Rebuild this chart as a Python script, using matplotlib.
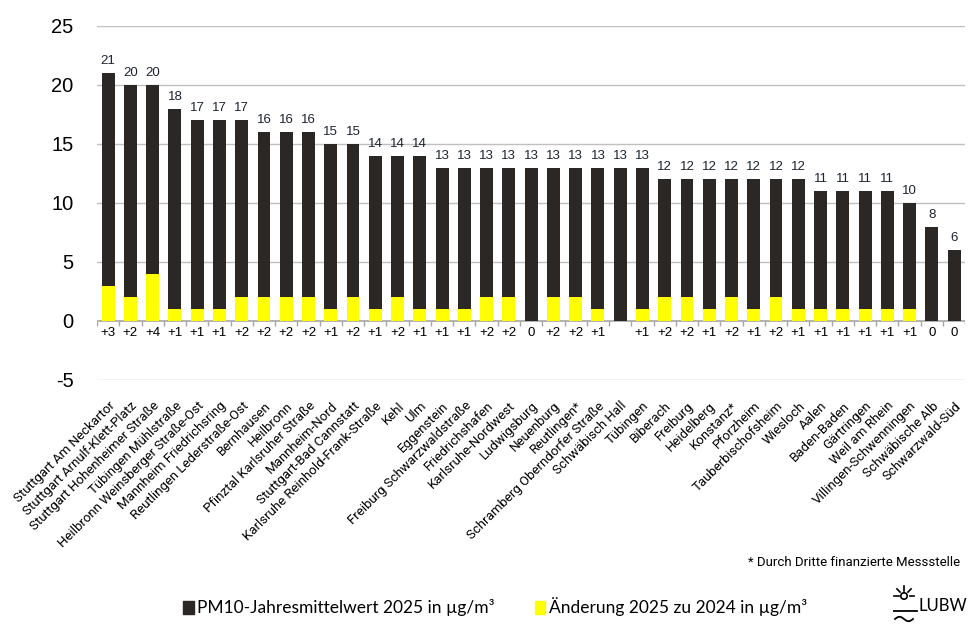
"""
PM10 annual means 2025 per station, with change vs. 2024.
"""

import matplotlib

matplotlib.use("Agg")
import matplotlib.pyplot as plt
import numpy as np
from matplotlib.patches import Circle, Rectangle

# --- data -------------------------------------------------------------------
stations = [
    "Stuttgart Am Neckartor",
    "Stuttgart Arnulf-Klett-Platz",
    "Stuttgart Hohenheimer Straße",
    "Tübingen Mühlstraße",
    "Heilbronn Weinsberger Straße-Ost",
    "Mannheim Friedrichsring",
    "Reutlingen Lederstraße-Ost",
    "Bernhausen",
    "Heilbronn",
    "Pfinztal Karlsruher Straße",
    "Mannheim-Nord",
    "Stuttgart-Bad Cannstatt",
    "Karlsruhe Reinhold-Frank-Straße",
    "Kehl",
    "Ulm",
    "Eggenstein",
    "Freiburg Schwarzwaldstraße",
    "Friedrichshafen",
    "Karlsruhe-Nordwest",
    "Ludwigsburg",
    "Neuenburg",
    "Reutlingen*",
    "Schramberg Oberndorfer Straße",
    "Schwäbisch Hall",
    "Tübingen",
    "Biberach",
    "Freiburg",
    "Heidelberg",
    "Konstanz*",
    "Pforzheim",
    "Tauberbischofsheim",
    "Wiesloch",
    "Aalen",
    "Baden-Baden",
    "Gärtringen",
    "Weil am Rhein",
    "Villingen-Schwenningen",
    "Schwäbische Alb",
    "Schwarzwald-Süd",
]

pm10_2025 = [21, 20, 20, 18, 17, 17, 17, 16, 16, 16, 15, 15, 14, 14, 14,
             13, 13, 13, 13, 13, 13, 13, 13, 13, 13,
             12, 12, 12, 12, 12, 12, 12, 11, 11, 11, 11, 10, 8, 6]

# None = no comparison value available
change_vs_2024 = [3, 2, 4, 1, 1, 1, 2, 2, 2, 2, 1, 2, 1, 2, 1,
                  1, 1, 2, 2, 0, 2, 2, 1, None, 1,
                  2, 2, 1, 2, 1, 2, 1, 1, 1, 1, 1, 1, 0, 0]

y_ticks = [-5, 0, 5, 10, 15, 20, 25]

legend_labels = ["PM10-Jahresmittelwert 2025 in µg/m³",
                 "Änderung 2025 zu 2024 in µg/m³"]
footnote = "* Durch Dritte finanzierte Messstelle"

DARK = "#2b2724"
YELLOW = "#ffff00"
GRID = "#c0c0c0"
AXIS = "#a6a6a6"

plt.rcParams["font.family"] = ["Liberation Sans", "DejaVu Sans"]

fig = plt.figure(figsize=(9.75, 6.29), dpi=100)
ax = fig.add_axes([0.0995, 0.396, 0.8905, 0.5628])

x = np.arange(len(stations))
change = np.array([np.nan if c is None else c for c in change_vs_2024], dtype=float)

ax.bar(x, pm10_2025, width=0.58, color=DARK, zorder=3)
ax.bar(x, np.nan_to_num(change), width=0.58, color=YELLOW, zorder=4)

# value labels above the bars
for xi, v in zip(x, pm10_2025):
    ax.text(xi, v + 0.5, f"{v}", ha="center", va="bottom",
            fontsize=9.5, color="#1c2430", zorder=5)

# change labels below the zero line
for xi, c in zip(x, change_vs_2024):
    if c is None:
        continue
    txt = "0" if c == 0 else f"{c:+d}"
    ax.text(xi, -1.05, txt, ha="center", va="center",
            fontsize=9.5, color="black", zorder=5)

ax.set_xlim(-0.5, len(stations) - 0.5)
ax.set_ylim(-5, 25)
ax.set_yticks(y_ticks)
ax.set_yticklabels([str(t) for t in y_ticks], fontsize=14.5)
ax.tick_params(axis="y", length=0, pad=17)

ax.set_xticks(x)
ax.set_xticklabels(stations, rotation=45, ha="right", rotation_mode="anchor",
                   fontsize=9.5, family=["Roboto", "DejaVu Sans"])
ax.tick_params(axis="x", length=0, pad=14)

for t in y_ticks:
    if t != 0:
        ax.axhline(t, color=GRID, lw=1, zorder=1)
ax.axhline(0, color=AXIS, lw=1.2, zorder=2)
ax.vlines(np.arange(len(stations) + 1) - 0.5, -0.42, 0, color=AXIS,
          lw=1, zorder=2)

for side in ["top", "right", "left", "bottom"]:
    ax.spines[side].set_visible(False)

# footnote
fig.text(0.985, 0.105, footnote, ha="right", va="center", fontsize=9.5,
         family=["Roboto", "DejaVu Sans"])

# legend
handles = [Rectangle((0, 0), 1, 1, color=DARK), Rectangle((0, 0), 1, 1, color=YELLOW)]
fig.legend(handles, legend_labels,
           loc="center left", bbox_to_anchor=(0.188, 0.035), ncol=2, frameon=False,
           handlelength=0.6, handleheight=0.75, handletextpad=0.2,
           columnspacing=2.3, borderpad=0, borderaxespad=0,
           prop={"family": ["Lato", "Liberation Sans"], "size": 12.5})

# simple LUBW mark
logo = fig.add_axes([893 / 975, 4 / 629, 72 / 975, 42 / 629])
logo.set_xlim(0, 72)
logo.set_ylim(0, 42)
logo.axis("off")
sun = (11, 29)
logo.add_patch(Circle(sun, 3.2, fill=False, lw=1.2, color="black"))
for ang in np.radians([0, 45, 90, 135, 180]):
    logo.plot([sun[0] + 5.5 * np.cos(ang), sun[0] + 10 * np.cos(ang)],
              [sun[1] + 5.5 * np.sin(ang), sun[1] + 10 * np.sin(ang)],
              color="black", lw=1.2)
logo.plot([0, 24], [14, 14], color="black", lw=1.3)
wx = np.linspace(2, 20, 40)
logo.plot(wx, 6 + 2.2 * np.sin((wx - 2) / 18 * 2 * np.pi), color="black", lw=1.3)
logo.text(25, 14, "LUBW", fontsize=12, va="baseline", ha="left",
          family=["Lato", "Liberation Sans"])

fig.savefig("out.png", dpi=100)
